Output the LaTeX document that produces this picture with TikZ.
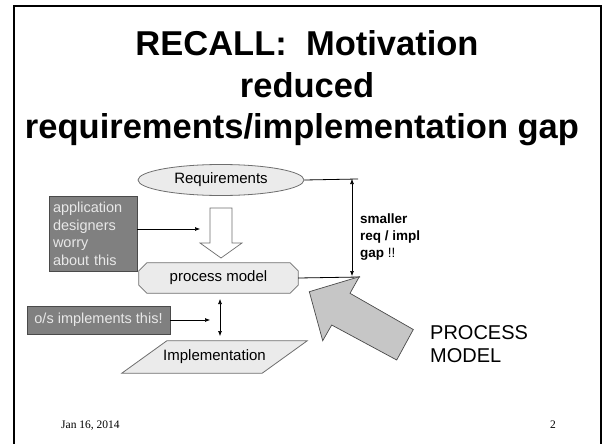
\documentclass[tikz,border=0pt]{standalone}
\usepackage{fontspec}
\setmainfont{Liberation Sans}
\newfontfamily\footfont{Liberation Serif}
\usetikzlibrary{arrows.meta,shapes.geometric,calc}

\definecolor{shapefill}{HTML}{EBEBEB}
\definecolor{shapeline}{HTML}{6E6E6E}
\definecolor{notefill}{HTML}{808080}
\definecolor{noteline}{HTML}{4A4A4A}
\definecolor{notetext}{HTML}{E8E8E8}
\definecolor{bigarrow}{HTML}{C6C6C6}

\tikzset{
  titletext/.style={font=\fontsize{34.5}{34.5}\selectfont\bfseries, anchor=base},
  stagetext/.style={font=\fontsize{15}{15}\selectfont, inner sep=0pt},
  stageline/.style={draw=shapeline, fill=shapefill, line width=0.8pt},
  note/.style={draw=noteline, fill=notefill, line width=0.8pt, text=notetext,
    font=\fontsize{14.5}{17.5}\selectfont, inner sep=0pt},
  pointer/.style={-{Latex[length=5pt,width=4pt]}, line width=0.6pt},
  twoway/.style={{Latex[length=5pt,width=4pt]}-{Latex[length=5pt,width=4pt]}, line width=0.6pt},
  gapline/.style={line width=0.8pt},
}

\begin{document}
\begin{tikzpicture}[x=1pt,y=-1pt]
\useasboundingbox (0,0) rectangle (602,444);

% slide frame
\draw[line width=2pt] (600.5,444) -- (600.5,6) -- (13.5,6) -- (13.5,444);

% title
\node[titletext] (t1) at (307,56) {RECALL:\ \ Motivation};
\node[titletext] (t2) at (307,97) {reduced};
\node[titletext] (t3) at (302,138) {requirements/implementation gap};

% requirements
\node[stageline, stagetext, ellipse, minimum width=166pt, minimum height=31pt] (req) at (221,180) {Requirements};

% hollow refinement arrow
\draw[draw=shapeline, fill=white, line width=0.7pt]
  (210,208) -- (232,208) -- (232,243) -- (242,243) -- (221,258) -- (200,243) -- (210,243) -- cycle;

% process model: box with cut corners
\node[stagetext, minimum width=159pt, minimum height=30pt] (pm) at (218.5,278) {};
\draw[stageline]
  ($(pm.north west)+(8,0)$) -- ($(pm.north east)+(-8,0)$) -- ($(pm.north east)+(0,8)$)
  -- ($(pm.south east)+(0,-8)$) -- ($(pm.south east)+(-8,0)$) -- ($(pm.south west)+(8,0)$)
  -- ($(pm.south west)+(0,-8)$) -- ($(pm.north west)+(0,8)$) -- cycle;
\node[stagetext] at (pm.center) {process model};

% implementation: slanted box
\node[stagetext, minimum width=140pt, minimum height=32pt] (impl) at (214.5,357) {};
\draw[stageline]
  ($(impl.north west)+(22.5,0)$) -- ($(impl.north east)+(22.5,0)$)
  -- ($(impl.south east)+(-22.5,0)$) -- ($(impl.south west)+(-22.5,0)$) -- cycle;
\node[stagetext] at (impl.center) {Implementation};

% notes on the left
\node[note, minimum width=88pt, minimum height=75pt, text width=80pt, align=left] (app) at (93,234)
  {application\\designers\\worry\\about this};
\node[note, minimum width=143pt, minimum height=28pt] (os) at (98.5,320) {o/s implements this!};

\coordinate (append) at (200,229);
\coordinate (osend) at (210,320);
\draw[pointer] (app.east |- append) -- (append);
\draw[pointer] (os.east) -- (osend);

% process model <-> implementation
\coordinate (pmb) at (220,299);
\coordinate (impt) at (220,336);
\draw[twoway] (pmb) -- (impt);

% gap marker
\coordinate (gtop) at (358,179);
\coordinate (gbot) at (360,277);
\draw[gapline] (req.east) -- (gtop);
\draw[gapline] (pm.east) -- (gbot);
\coordinate (gx1) at (352,179);
\coordinate (gx2) at (352,276);
\draw[twoway] (gx1) -- (gx2);
\node[font=\fontsize{13.5}{16.7}\selectfont, anchor=north west, align=left, inner sep=0pt] (gap) at (360,214)
  {\textbf{smaller}\\\textbf{req / impl}\\\textbf{gap} !!};

% big arrow
\draw[draw=noteline, fill=bigarrow, line width=0.7pt]
  (309.3,291.7) -- (359.3,276.7) -- (350,293.3) -- (413.3,329.5) -- (396.7,360)
  -- (331.7,325) -- (322.7,340.7) -- cycle;
\node[font=\fontsize{20}{23.5}\selectfont, anchor=north west, align=left, inner sep=0pt] (pmlabel) at (430,325)
  {PROCESS\\MODEL};

% footer
\node[font=\footfont\fontsize{11.5}{11.5}\selectfont, anchor=base west, inner sep=0pt] (date) at (61,428) {Jan 16, 2014};
\node[font=\footfont\fontsize{11.5}{11.5}\selectfont, anchor=base east, inner sep=0pt] (page) at (556,428) {2};
\end{tikzpicture}
\end{document}
